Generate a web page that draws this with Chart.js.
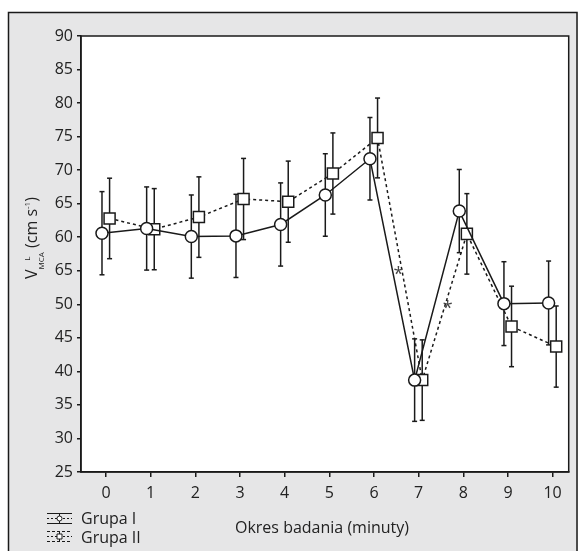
<!DOCTYPE html>
<html>
<head>
<meta charset="utf-8">
<script src="https://cdn.jsdelivr.net/npm/chart.js@4.4.1/dist/chart.umd.min.js"></script>
<style>
  html, body { margin: 0; padding: 0; background: #fff; }
  canvas { display: block; }
</style>
</head>
<body>
<canvas id="chart" width="578" height="551"></canvas>
<script>
const minutes = [0, 1, 2, 3, 4, 5, 6, 7, 8, 9, 10]
const groupIMean = [60.6, 61.3, 60.1, 60.2, 61.9, 66.3, 71.7, 38.7, 63.9, 50.1, 50.2]
const groupISd = [6.2, 6.2, 6.2, 6.2, 6.2, 6.15, 6.15, 6.15, 6.2, 6.25, 6.25]
const groupIIMean = [62.8, 61.2, 63.0, 65.7, 65.3, 69.5, 74.8, 38.7, 60.5, 46.7, 43.7]
const groupIISd = [6.0, 6.05, 6.0, 6.05, 6.05, 6.05, 5.95, 6.0, 6.0, 6.0, 6.05]
const yTickValues = [25, 30, 35, 40, 45, 50, 55, 60, 65, 70, 75, 80, 85, 90]
// the printed figure labels 55 as "65", kept as in the original
const yTickLabels = ['25', '30', '35', '40', '45', '50', '65', '60', '65', '70', '75', '80', '85', '90']
const starMarks = [{ x: 6.55, y: 55.1 }, { x: 7.65, y: 50.1 }]

const INK = '#1a1a1a'
const FAMILY = "'Open Sans', sans-serif"
const font = { family: FAMILY, size: 16 }

function line (ctx, x0, y0, x1, y1) {
  ctx.beginPath()
  ctx.moveTo(x0, y0)
  ctx.lineTo(x1, y1)
  ctx.stroke()
}

const framePlugin = {
  id: 'frame',
  beforeDraw (chart) {
    const { ctx, chartArea: a } = chart
    ctx.save()
    ctx.fillStyle = '#fff'
    ctx.fillRect(0, 0, chart.width, chart.height)
    ctx.fillStyle = '#e6e6e7'
    ctx.fillRect(8, 12, chart.width - 8, chart.height - 12)
    ctx.strokeStyle = INK
    ctx.lineWidth = 1.5
    ctx.beginPath()
    ctx.moveTo(8.5, chart.height)
    ctx.lineTo(8.5, 12.5)
    ctx.lineTo(577, 12.5)
    ctx.lineTo(577, chart.height)
    ctx.stroke()
    ctx.fillStyle = '#fff'
    ctx.fillRect(a.left, a.top, a.right - a.left, a.bottom - a.top)
    ctx.restore()
  },
  afterDraw (chart) {
    const { ctx, chartArea: a } = chart
    ctx.save()
    ctx.strokeStyle = INK
    ctx.lineWidth = 1.5
    ctx.strokeRect(a.left, a.top, a.right - a.left, a.bottom - a.top)

    ctx.fillStyle = '#222'
    // x title
    ctx.font = `16px ${FAMILY}`
    ctx.textAlign = 'center'
    ctx.textBaseline = 'alphabetic'
    ctx.fillText('Okres badania (minuty)', 322, 532.5)

    // y title, rotated
    ctx.translate(37, 238)
    ctx.rotate(-Math.PI / 2)
    ctx.textAlign = 'left'
    const big = `16px ${FAMILY}`
    const small = `8px ${FAMILY}`
    ctx.font = big
    const wV = ctx.measureText('V').width
    const wRest = ctx.measureText(' (cm s').width
    const wClose = ctx.measureText(')').width
    ctx.font = small
    const wSub = ctx.measureText('MCA').width
    const wSup = ctx.measureText('-1').width
    const total = wV + wSub + wRest + wSup + wClose
    let x = -total / 2
    ctx.font = big
    ctx.fillText('V', x, 0)
    x += wV
    ctx.font = small
    ctx.fillText('MCA', x, 7)
    ctx.fillText('L', x + wSub / 2, -7)
    x += wSub
    ctx.font = big
    ctx.fillText(' (cm s', x, 0)
    x += wRest
    ctx.font = small
    ctx.fillText('-1', x, -7)
    x += wSup
    ctx.font = big
    ctx.fillText(')', x, 0)
    ctx.restore()

    // legend
    ctx.save()
    ctx.strokeStyle = INK
    ctx.fillStyle = '#222'
    ctx.font = `16px ${FAMILY}`
    ctx.textBaseline = 'alphabetic'
    ctx.textAlign = 'left'
    const rows = [
      { label: 'Grupa I', y: 518.5, base: 524, dashedCaps: false, marker: 'circle' },
      { label: 'Grupa II', y: 536.5, base: 543, dashedCaps: true, marker: 'rect' }
    ]
    for (const r of rows) {
      ctx.lineWidth = 1
      ctx.setLineDash(r.dashedCaps ? [3, 2] : [])
      line(ctx, 47, r.y - 5, 72, r.y - 5)
      line(ctx, 47, r.y + 5, 72, r.y + 5)
      ctx.setLineDash([2, 2])
      line(ctx, 47, r.y, 72, r.y)
      ctx.setLineDash([])
      line(ctx, 59.5, r.y - 5, 59.5, r.y + 5)
      ctx.fillStyle = '#fff'
      ctx.beginPath()
      if (r.marker === 'circle') ctx.arc(59.5, r.y, 2.5, 0, Math.PI * 2)
      else ctx.rect(57, r.y - 2.5, 5, 5)
      ctx.fill()
      ctx.stroke()
      ctx.fillStyle = '#222'
      ctx.fillText(r.label, 81, r.base)
    }
    ctx.restore()
  }
}

const errorBarPlugin = {
  id: 'errorBars',
  beforeDatasetsDraw (chart) {
    const { ctx } = chart
    const yScale = chart.scales.y
    ctx.save()
    ctx.strokeStyle = INK
    ctx.lineWidth = 1.5
    chart.data.datasets.forEach((ds, di) => {
      const meta = chart.getDatasetMeta(di)
      meta.data.forEach((pt, i) => {
        const raw = ds.data[i]
        const top = yScale.getPixelForValue(raw.y + raw.sd)
        const bot = yScale.getPixelForValue(raw.y - raw.sd)
        line(ctx, pt.x, top, pt.x, bot)
        line(ctx, pt.x - 2.5, top, pt.x + 2.5, top)
        line(ctx, pt.x - 2.5, bot, pt.x + 2.5, bot)
      })
    })
    ctx.restore()
  },
  afterDatasetsDraw (chart) {
    const { ctx, scales } = chart
    ctx.save()
    ctx.fillStyle = '#444'
    ctx.font = `18px ${FAMILY}`
    ctx.textAlign = 'center'
    ctx.textBaseline = 'alphabetic'
    for (const s of starMarks) {
      ctx.fillText('*', scales.x.getPixelForValue(s.x), scales.y.getPixelForValue(s.y) + 10)
    }
    ctx.restore()
  }
}

// eslint-disable-next-line no-new
new Chart(document.getElementById('chart'), {
  type: 'line',
  data: {
    datasets: [
      {
        label: 'Grupa I',
        data: minutes.map((m, i) => ({ x: m - 0.09, y: groupIMean[i], sd: groupISd[i] })),
        borderColor: INK,
        borderWidth: 1.5,
        pointStyle: 'circle',
        pointRadius: 6,
        pointBackgroundColor: '#fff',
        pointBorderColor: INK,
        pointBorderWidth: 1.5,
        tension: 0
      },
      {
        label: 'Grupa II',
        data: minutes.map((m, i) => ({ x: m + 0.08, y: groupIIMean[i], sd: groupIISd[i] })),
        borderColor: INK,
        borderWidth: 1.5,
        borderDash: [3, 3],
        pointStyle: 'rect',
        pointRadius: 7.8,
        pointBackgroundColor: '#fff',
        pointBorderColor: INK,
        pointBorderWidth: 1.5,
        tension: 0
      }
    ]
  },
  options: {
    responsive: false,
    animation: false,
    layout: { padding: { top: 36, right: 9, left: 0, bottom: 0 } },
    plugins: {
      legend: { display: false },
      tooltip: { enabled: false }
    },
    scales: {
      // eslint-disable-next-line id-length
      x: {
        type: 'linear',
        min: -0.56,
        max: 10.36,
        afterBuildTicks: (s) => { s.ticks = minutes.map((v) => ({ value: v })) },
        afterFit: (s) => { s.height = 79 },
        grid: { drawOnChartArea: false, tickLength: 5, color: INK, lineWidth: 1.5 },
        border: { color: INK, width: 1.5 },
        ticks: { font, color: '#222', padding: 7, maxRotation: 0, callback: (v) => String(v) }
      },
      // eslint-disable-next-line id-length
      y: {
        min: 25,
        max: 90,
        afterBuildTicks: (s) => { s.ticks = yTickValues.map((v) => ({ value: v })) },
        afterFit: (s) => { s.width = 81 },
        grid: { drawOnChartArea: false, tickLength: 4, color: INK, lineWidth: 1.5 },
        border: { color: INK, width: 1.5 },
        ticks: { font, color: '#222', padding: 4, callback: (v) => yTickLabels[yTickValues.indexOf(v)] }
      }
    }
  },
  plugins: [framePlugin, errorBarPlugin]
})
</script>
</body>
</html>
